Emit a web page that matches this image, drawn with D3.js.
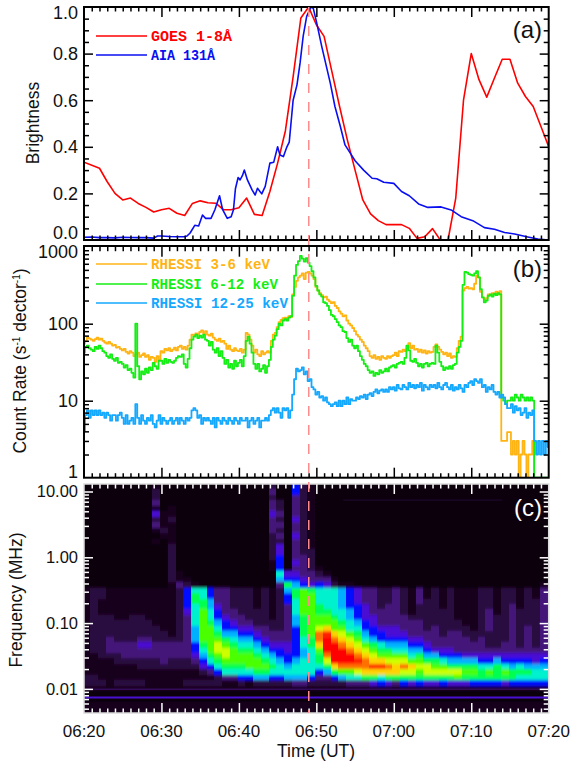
<!DOCTYPE html>
<html><head><meta charset="utf-8">
<script src="https://cdn.jsdelivr.net/npm/d3@7/dist/d3.min.js"></script>
<style>html,body{margin:0;padding:0;background:#fff}svg{display:block}text{font-family:"Liberation Sans",Arial,sans-serif;fill:#111}.leg{font-family:"Liberation Mono",monospace;font-weight:bold;font-size:14.4px}</style>
</head><body><svg id="c" width="581" height="762"></svg>
<script>
const timeLabels=["06:20","06:30","06:40","06:50","07:00","07:10","07:20"];
const flareMinute=29.02;
const goesT=[0,2,3,4,5,6,7,8,9,10,11,12,13,14,15,16,17,18,19,20,21,22,23,24,25,26,27,28,29,30,31,32,33,34,35,36,37,38,39,40,41,42,43,44,45,46,47,48,49,50,51,52,53,54,55,56,57,58,59,60];
const goesV=[.334,.308,.25,.2,.172,.18,.157,.14,.12,.13,.136,.115,.105,.157,.168,.16,.158,.13,.13,.138,.18,.11,.105,.208,.33,.468,.70,.953,1,.924,.874,.724,.573,.43,.30,.172,.112,.083,.066,.066,.066,.05,.007,.014,.049,0,0,.18,.60,.80,.688,.613,.695,.776,.776,.673,.616,.573,.487,.40];
const aiaT=[0,1,2,3,4,5,6,7,8,9,9.5,10,11,12,13,13.3,13.7,14.3,14.8,15.3,15.7,16.4,16.9,17.5,17.9,18.5,19,19.3,19.55,19.9,20.15,20.45,20.7,21.1,21.7,22.1,22.4,22.95,23.4,24,24.5,25,25.3,25.75,26.2,26.5,27,27.5,27.9,28.3,28.75,29.3,29.6,30.06,30.7,31.8,32.4,33.1,33.7,34.4,35,36.1,37.2,37.8,38.7,40,41,42,43.2,44.4,46.1,47.4,48.7,50.2,51.7,53,54.3,55.6,57.3,58.6,60];
const aiaV=[.012,.013,.01,.01,.009,.012,.011,.01,.01,.008,.017,.017,.015,.014,.014,.017,.03,.063,.06,.107,.093,.093,.13,.19,.13,.093,.10,.13,.22,.268,.258,.276,.30,.258,.215,.193,.222,.198,.23,.33,.334,.40,.365,.358,.40,.42,.60,.666,.76,.875,.96,1,.995,.93,.83,.673,.573,.487,.408,.372,.34,.30,.265,.263,.248,.243,.208,.19,.155,.14,.142,.129,.10,.083,.053,.046,.032,.026,.013,.004,0];
const rhessiOrange=[
55,60,66,64,62,60,63,66,62,64,60,57,55,58,55,52,53,49,50,47,
45,47,43,41,44,42,38,40,42,37,39,41,37,39,34,37,36,32,38,34,
44,42,47,45,48,44,46,49,45,50,52,47,50,46,52,62,72,70,75,73,
78,82,75,80,72,70,74,66,62,60,64,58,60,55,47,52,46,44,48,45,
44,47,42,46,76,72,62,52,42,46,40,38,44,40,42,44,42,60,72,76,
90,105,112,118,120,115,125,122,240,300,360,400,420,450,380,460,470,450,420,380,
300,270,250,235,220,225,205,195,185,190,170,160,145,135,125,128,110,100,95,88,
80,72,68,62,58,52,48,44,38,36,39,35,37,34,38,36,35,38,36,38,
39,42,38,44,43,46,44,48,56,48,52,46,47,43,46,42,45,41,44,42,
43,50,54,50,46,43,40,42,38,41,36,38,37,48,60,68,270,290,300,285,
290,280,330,420,400,260,220,205,215,240,235,250,245,260,240,265,3,3,3,3.9,
3.9,2,3,2,3,1,2,3,2,1,2,2,3,.8,.8,.8,.8,.8,.8,.8,.8];
const rhessiGreen=[
42,50,52,48,46,44,50,47,52,48,44,42,38,36,40,35,33,36,31,32,
30,27,29,25,26,23,20,100,28,19,24,22,26,23,27,25,31,28,26,33,
33,30,35,31,34,32,31,33,36,38,37,40,30,27,35,48,62,68,72,65,
70,66,72,62,60,52,58,46,42,48,38,44,36,30,34,27,30,26,33,28,
31,34,28,38,60,68,55,42,30,26,30,24,26,29,23,28,34,50,62,70,
85,100,95,110,115,110,120,125,230,420,580,650,760,700,640,710,620,560,480,400,
310,270,240,225,190,185,170,150,130,125,115,105,95,90,80,78,65,58,62,52,
48,52,44,38,34,30,28,25,23,24,21,23,22,25,23,24,26,24,27,28,
29,27,30,31,32,30,36,52,45,33,32,35,31,28,30,27,30,31,28,30,
31,30,52,42,32,28,25,27,26,28,26,29,30,42,50,60,320,470,460,440,
430,420,450,480,400,280,220,190,200,230,240,225,245,235,250,240,11,10,9,10,
10,11,10,12,11,10,12,11,10,11,10,11,10,1,1,1,1,1,1,1,1];
const rhessiBlue=[
4,6.5,7.5,6,7.5,6.5,7.5,6.5,7.5,6.5,7,6,7,6.5,5.5,6.5,6.5,5.5,6.5,7,
6,5,6.5,5,5.5,6,5,9,6,5,6.5,5.5,5,6,5.5,6.5,5,4.5,5.5,6.5,
5,6,5.5,5,5.5,6,5,5.5,6,5,6,5.5,5,6,5.5,6,7.5,8,7.5,6,
6.5,5,6,5.5,6,5.5,5,6,4.5,6,5.5,5,6,5.5,5,6,5.5,5,6,5.5,
5,6,5.5,5.5,6,4.5,5.5,6,5,5.5,6,4.5,5.5,5.5,6,5.5,6.5,7.5,8,7,
8,7,6,8,7.5,8,6,7.5,12,19,26,24,25,27,22,24,18,19,15,14,
12,13,11,11.5,10,11,9.5,9,8.5,9,9.5,8.5,10,8.5,10,9,11,9,10.5,10,
10,11,10.5,11.5,11,12,10.5,12,12.5,11.5,13,14,12.5,13.5,14,13,14,13,15,14,
15,13.5,16,14.5,14,16,15,14,17,15,16,14.5,16,15,17,13.5,16,15,14,16,
15,16,14.5,17,15,14,16,17,15,14,16,13.5,15,14,16,14.5,13,16,15,17,
18,16,19,18,17,19,15,16,13,15,14,16,13,12,13,11,12,11,9,8,
8,9,7,8.5,7.5,8,6.5,7,8,6,7,6.5,7.5,3,2,3,2,3,2,3,2.5];
// Radio spectrogram: one string per minute, each character a colour level (0-e) per frequency row, top to bottom.
const radioHigh=[
"0000000000000000000","0000000000000000000","0000000000000000000","0000000000000000000","0000000000000000000",
"0000000000000000000","0000000000000000000","0000000000000000000","0000000000000000000",
"1223142310100000000","0000011121000000000","0000112111122222221","0000000000000000113","0000000000000000012","0000000000000000001",
"0000000000000000000","0000000000000000000","0000000000000000000","0000000000000000000","0000000000000000000",
"0000000000000000000","0000000000000000000","0000000000000000000","0000000000000000000",
"2323343332222211000","0002232323244555763","0000000000000000458","5533334334333343456","2222222222222333345","1111111111112222334",
"0000000000000001235","0000000000000000134","0000000000000000012","0000000000000000001","0000000000000000001",
"0000000000000000000","0000000000000000000","0000000000000000000","0000000000000000000","0000000000000000000",
"0000000000000000000","0000000000000000000","0000000000000000000","0000000000000000000","0000000000000000000",
"0000000000000000000","0000000000000000000","0000000000000000000","0000000000000000000","0000000000000000000",
"0000000000000000000","0000000000000000000","0000000000000000000","0000000000000000000","0000000000000000000",
"0000000000000000000","0000000000000000000","0000000000000000000","0000000000000000000","0000000000000000001"];
const radioLow=[
"111111111111111122","222222222222111122","221112222222211112","111112222333211111","111111222233221112",
"111111222233321112","111112222233321112","111112222343322112","111111222343322111","111111122233322111",
"111111112233332111","111111111233322111","222222222233322111","555543333333322112","788777766655432112",
"778899999987654212","556677899999875312","3334556789aa987522","33333455689aa98731","222233456789998731",
"222223345678998752","222222345678999751","111122234567899862","222222233456789862","111111223345678752",
"222222223345567752","655333333344556762","887776655555567763","999998888776677763","899999999887777752",
"7778899accb9887532","7777899bdeeeca8632","77777899bceeeeb852","66667789abceeec962","555566779abceec973",
"4445556789abcdca73","33344455679abccb83","333334455689abdb84","2222333455789bdb75","2223333445689acb84",
"3333333445679abb83","2222233345679aca85","11111233345679ba84","33322233345689a985","11222222334568aa84",
"222222233334689a84","111122222334579a85","222222223334568a84","111111223333568a94","111111122333468984",
"111111112233468985","222222222333457885","222233332223457985","111112222223468885","222222222233457984",
"222333333333456885","111122222223457875","222222233333456875","112222222223446775","333333333333456775"];
const radioTail=[1,0,0,1,1];
const bandMHz=[7.4,0.0099,0.0074];
const bandLevel=[1.6,3,4];
const bandStart=[33.5,0,0];
const bandEnd=[54,60,60];
const levelColors=["#0a000c","#17061f","#2a0c40","#45127a","#4a10d4","#0010ff","#0084ff","#00e6ff","#00ff90","#00ff00","#a4ff00","#ffff00","#ff9a00","#ff3c00","#ff0000"];

const L=84,R=548.7;
const svg=d3.select("#c");
const x=d3.scaleLinear().domain([0,60]).range([L,R]);
const yA=d3.scaleLinear().domain([0,1]).range([240,7]);
const yB=d3.scaleLog().domain([1,1000]).range([477.7,246.7]);
const yC=d3.scaleLog().domain([0.0043,13]).range([713,484]);
const color=d3.scaleLinear().domain(d3.range(levelColors.length)).range(levelColors).clamp(true);
const cellColor=lv=>color(lv>=6?lv+0.45:lv);

function xTicks(g,yTop,yBot,col){
  const minors=d3.range(0,61).filter(m=>m%10), majors=d3.range(10,60,10);
  const add=(vals,len,top)=>{
    const ax=(top?d3.axisTop:d3.axisBottom)(x).tickValues(vals).tickSize(-len).tickFormat("");
    const a=g.append("g").attr("transform",`translate(0,${top?yTop:yBot})`).call(ax);
    a.select(".domain").remove();
    a.selectAll("line").attr("stroke",col).attr("stroke-width",1.5);
  };
  add(minors,4.5,true);add(minors,4.5,false);add(majors,10,true);add(majors,10,false);
}
function yTicks(g,scale,majors,minors,col,minLen,majLen){
  const add=(vals,len,left)=>{
    const ax=(left?d3.axisLeft:d3.axisRight)(scale).tickValues(vals).tickSize(-len).tickFormat("");
    const a=g.append("g").attr("transform",`translate(${left?L:R},0)`).call(ax);
    a.select(".domain").remove();
    a.selectAll("line").attr("stroke",col).attr("stroke-width",1.5);
  };
  add(minors,minLen,true);add(minors,minLen,false);add(majors,majLen,true);add(majors,majLen,false);
}
function yLabels(vals,scale,fmt,size,fill,shift){
  svg.append("g").selectAll("text").data(vals).join("text")
    .attr("x",78).attr("y",d=>scale(d)+(shift?shift(d):0)).attr("dy","0.36em")
    .attr("text-anchor","end").attr("font-size",size).text(fmt);
}
function series(g,clip,T,V,yS,col,curve,w){
  const line=d3.line().curve(curve||d3.curveLinear).x((d,i)=>x(T[i])).y(d=>yS(d));
  g.append("path").attr("d",line(V)).attr("fill","none").attr("stroke",col).attr("stroke-width",w||1.6)
   .attr("stroke-linejoin","round").attr("clip-path",`url(#${clip})`);
}
const defs=svg.append("defs");
[["clipA",7,233],["clipB",246.7,231],["clipC",484,229]].forEach(([id,y,h])=>{
  defs.append("clipPath").attr("id",id).append("rect").attr("x",L).attr("y",y).attr("width",R-L).attr("height",h);
});
const blur=defs.append("filter").attr("id","soft").attr("filterUnits","userSpaceOnUse")
  .attr("x",L-10).attr("y",474).attr("width",R-L+20).attr("height",250);
blur.append("feGaussianBlur").attr("stdDeviation","0.7 1.7");

// Panel (c)
const nRows=radioHigh[0].length+radioLow[0].length+radioTail.length;
const [fB,fT]=yC.domain();
const rowEdge=d3.range(nRows+1).map(i=>fT*Math.pow(fB/fT,i/nRows));
const cells=[];
radioHigh.forEach((hi,c)=>{
  const levels=[...hi,...radioLow[c],...radioTail].map(ch=>parseInt(ch,16));
  levels.forEach((lv,r)=>cells.push({c,r,lv}));
});
const pc=svg.append("g").attr("clip-path","url(#clipC)");
const pcInner=pc.append("g").attr("filter","url(#soft)");
pcInner.append("rect").attr("x",L-10).attr("y",474).attr("width",R-L+20).attr("height",250).attr("fill",levelColors[0]);
pcInner.selectAll("rect.cell").data(cells).join("rect").attr("class","cell")
  .attr("x",d=>x(d.c-0.17)).attr("width",d=>x(d.c+(d.c==59?1.2:0.9))-x(d.c-0.07)+1)
  .attr("y",d=>yC(rowEdge[d.r])).attr("height",d=>yC(rowEdge[d.r+1])-yC(rowEdge[d.r])+0.3)
  .attr("fill",d=>cellColor(d.lv)).attr("shape-rendering","crispEdges");
pc.selectAll("line.band").data(bandMHz).join("line").attr("class","band")
  .attr("x1",(d,i)=>x(bandStart[i])).attr("x2",(d,i)=>x(bandEnd[i]))
  .attr("y1",d=>yC(d)).attr("y2",d=>yC(d))
  .attr("stroke",(d,i)=>color(bandLevel[i])).attr("stroke-width",(d,i)=>i==2?2:1);
const ticksC=svg.append("g");
const logMinor=(lo,hi)=>{const o=[];for(let e=lo;e<=hi;e++)for(let m=2;m<=9;m++)o.push(m*Math.pow(10,e));return o;};
xTicks(ticksC,484,713,"#fff");
yTicks(ticksC,yC,[0.01,0.1,1,10],logMinor(-3,1).filter(v=>v>0.0043&&v<13),"#fff",5,9);
svg.append("rect").attr("x",L).attr("y",484).attr("width",R-L).attr("height",229).attr("fill","none").attr("stroke","#dcdcdc").attr("stroke-width",1.5);

// Panel (a)
const pa=svg.append("g");
series(pa,"clipA",goesT,goesV,yA,"#ff0000");
series(pa,"clipA",aiaT,aiaV,yA,"#0a0ff0");
xTicks(pa,7,240,"#000");
yTicks(pa,yA,[.2,.4,.6,.8],d3.range(1,20).map(i=>i*.05).filter(v=>Math.abs(v*5-Math.round(v*5))>1e-6),"#000",5,9);
pa.append("rect").attr("x",L).attr("y",7).attr("width",R-L).attr("height",233).attr("fill","none").attr("stroke","#000").attr("stroke-width",2);

// Panel (b)
const idx=a=>a.map((d,i)=>i*0.25);
const pb=svg.append("g");
series(pb,"clipB",idx(rhessiOrange),rhessiOrange,yB,"#ffb414",d3.curveStep,1.8);
series(pb,"clipB",idx(rhessiGreen),rhessiGreen,yB,"#14ee14",d3.curveStep,1.8);
series(pb,"clipB",idx(rhessiBlue),rhessiBlue,yB,"#14a8ff",d3.curveStep,1.8);
xTicks(pb,246.7,477.7,"#000");
yTicks(pb,yB,[10,100],logMinor(0,2),"#000",5,9);
pb.append("rect").attr("x",L).attr("y",246).attr("width",R-L).attr("height",231.7).attr("fill","none").attr("stroke","#000").attr("stroke-width",2);

// Flare marker
svg.append("line").attr("x1",x(flareMinute)).attr("x2",x(flareMinute)).attr("y1",7).attr("y2",713)
  .attr("stroke","#ff8c8c").attr("stroke-width",1.5).attr("stroke-dasharray","10 9");

// Labels
yLabels([0,.2,.4,.6,.8,1],yA,d3.format(".1f"),18,null,d=>d==1?5.7:d==0?-7:0);
yLabels([1,10,100,1000],yB,d3.format("d"),18,null,d=>d==1000?5:d==1?-6:0);
yLabels([0.01,0.1,1,10],yC,d3.format(".2f"),16.5);
svg.append("g").selectAll("text").data(timeLabels).join("text")
  .attr("x",(d,i)=>x(i*10)).attr("y",737).attr("text-anchor","middle").attr("font-size",17).text(d=>d);
svg.append("text").attr("x",316).attr("y",757).attr("text-anchor","middle").attr("font-size",17.5).text("Time (UT)");
const rot=(xp,yp,t)=>svg.append("text").attr("transform",`translate(${xp},${yp}) rotate(-90)`).attr("text-anchor","middle").attr("font-size",17.5).text(t);
rot(39,123,"Brightness");
const cr=rot(26,361,"Count Rate (s");
cr.append("tspan").attr("dy",-6).attr("font-size",10).text("-1");
cr.append("tspan").attr("dy",6).text(" dector");
cr.append("tspan").attr("dy",-6).attr("font-size",10).text("-1");
cr.append("tspan").attr("dy",6).text(")");
rot(22,600,"Frequency (MHz)");
[["(a)",38,"#111"],["(b)",277,"#111"],["(c)",516,"#fff"]].forEach(([t,yy,c])=>{
  svg.append("text").attr("x",542).attr("y",yy).attr("text-anchor","end").attr("font-size",24).style("fill",c).text(t);
});
const legends=[["GOES 1-8Å","#ff0000",36,81],["AIA 131Å","#0a0ff0",55,64],["RHESSI 3-6 keV","#ffb414",264,119],["RHESSI 6-12 keV","#14ee14",284,127],["RHESSI 12-25 keV","#14a8ff",303,137]];
const lg=svg.append("g");
lg.selectAll("line").data(legends).join("line").attr("x1",96).attr("x2",147).attr("y1",d=>d[2]).attr("y2",d=>d[2]).attr("stroke",d=>d[1]).attr("stroke-width",1.5);
lg.selectAll("text").data(legends).join("text").attr("class","leg").attr("x",151).attr("y",d=>d[2]+4.5)
  .attr("textLength",d=>d[3]).attr("lengthAdjust","spacingAndGlyphs").style("fill",d=>d[1]).text(d=>d[0]);
</script></body></html>
